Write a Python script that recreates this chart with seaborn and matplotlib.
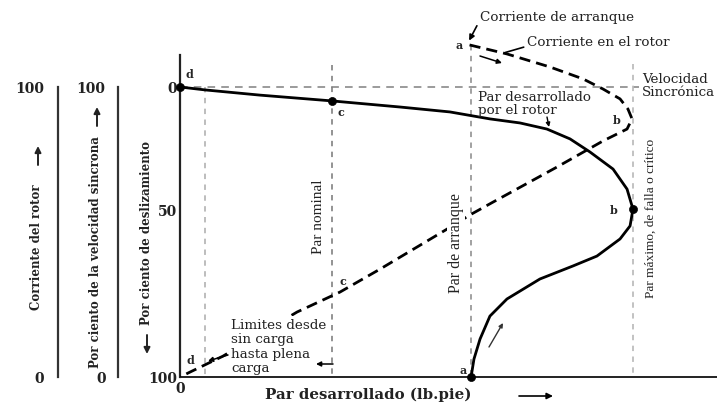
import matplotlib
matplotlib.use("Agg")
import matplotlib.pyplot as plt
from matplotlib.patches import FancyArrowPatch
import seaborn as sns
import pandas as pd

# ---------------- data (torque in arbitrary units, nominal = 100; slip in drawing units) -------------
torque_x = [0, 16.4, 52.6, 100, 144.7, 177.6, 203.9, 223.7, 241.4, 256.6, 269.7, 284.9,
            294.1, 298.0, 296.1, 289.5, 274.3, 258.6, 236.8, 215.1, 203.9, 197.4, 193.4, 191.5]
torque_slip = [0, 1.0, 2.8, 4.8, 6.9, 8.6, 11.0, 12.4, 14.5, 17.9, 22.4, 28.3,
               35.2, 42.1, 47.9, 52.4, 58.3, 61.7, 66.2, 73.1, 79.0, 86.9, 93.8, 100]
current_x = [190.5, 215.1, 243.4, 265.1, 278.3, 289.5, 294.7, 297.4, 294.1, 278.3, 248.0,
             205.9, 190.8, 175.7, 131.6, 105.3, 77.0, 28.3, 6.6, 0]
current_slip = [-14.5, -11.4, -6.9, -2.8, 0.7, 4.1, 7.6, 11.0, 14.5, 18.6, 27.6,
                39.7, 44.1, 49.0, 62.8, 70.7, 77.6, 92.8, 98.3, 100]
guide_x = [16.4, 100, 191.5, 297.7]          # sin carga, nominal, arranque, maximo
guide_top = [0, -7.6, -14.5, -8.0]
guide_colors = ["#b8b8b8", "#8a8a8a", "#9a9a9a", "#bdbdbd"]
point_x = [0, 100, 298.0, 191.5]             # d, c, b, a
point_slip = [0, 4.8, 42.1, 100]
slip_ticks = [0, 42.1, 100]
slip_labels = ["0", "50", "100"]
scale_labels = ["0", "100"]

W, H = 717, 406
sns.set_theme(style="white")
plt.rcParams["font.family"] = ["DejaVu Serif", "DejaVu Sans"]
SERIF = ["DejaVu Serif", "DejaVu Sans"]
TIMES = ["Liberation Serif", "DejaVu Serif"]

fig = plt.figure(figsize=(W / 100, H / 100), dpi=100)
fig.patch.set_facecolor("white")


def P(px, py):
    return (px / W, 1 - py / H)


def farrow(p0, p1, lw=1.1, ms=7, color="black"):
    fig.add_artist(FancyArrowPatch(P(*p0), P(*p1), transform=fig.transFigure, arrowstyle="-|>",
                                   color=color, lw=lw, mutation_scale=ms, shrinkA=0, shrinkB=0,
                                   zorder=6))


ax = fig.add_axes([180 / W, (H - 378) / H, (W - 180) / W, 378 / H])
ax.patch.set_visible(False)
ax.set_xlim(0, (W - 180) / 1.52)
ax.set_ylim(100, -88 / 2.9)

# guide lines
ax.vlines(guide_x, guide_top, 100, colors=guide_colors, linestyles=(0, (3, 3)), lw=1.3, zorder=1)
ax.hlines(0, 0, 302, colors="#808080", linestyles=(0, (5, 4)), lw=1.1, zorder=1)

df_t = pd.DataFrame({"x": torque_x, "y": torque_slip})
df_c = pd.DataFrame({"x": current_x, "y": current_slip})
sns.lineplot(data=df_t, x="x", y="y", sort=False, estimator=None, color="black", lw=2.0, ax=ax, zorder=3)
sns.lineplot(data=df_c, x="x", y="y", sort=False, estimator=None, color="black", lw=2.0, ax=ax, zorder=3,
             linestyle=(0, (4, 2.2)))
sns.scatterplot(x=point_x, y=point_slip, color="black", s=34, edgecolor="black", ax=ax, zorder=5, clip_on=False)

for s in ["top", "right"]:
    ax.spines[s].set_visible(False)
ax.spines["left"].set_bounds(100, -11)
ax.spines["left"].set_linewidth(1.6)
ax.spines["left"].set_color("#222222")
ax.spines["bottom"].set_linewidth(1.4)
ax.spines["bottom"].set_color("#222222")
ax.set_yticks(slip_ticks)
ax.set_yticklabels(slip_labels, fontfamily=SERIF, fontweight="bold", fontsize=10)
ax.set_xticks([0])
ax.set_xticklabels(["0"], fontfamily=SERIF, fontweight="bold", fontsize=10)
ax.tick_params(axis="y", direction="in", length=6, width=1.2, pad=2, colors="#222222")
ax.tick_params(axis="x", length=0, pad=3, colors="#222222")
ax.set_xlabel("")
ax.set_ylabel("")

# point letters
lab = dict(textcoords="offset pixels", fontfamily=SERIF, fontweight="bold", fontsize=8, ha="center", va="center")
ax.annotate("d", (0, 0), xytext=(9, 13), **lab)
ax.annotate("c", (100, 4.8), xytext=(9, -11), **lab)
ax.annotate("b", (298.0, 42.1), xytext=(-19, 0), **lab)
ax.annotate("a", (191.5, 100), xytext=(-8, 7), **lab)
ax.annotate("a", (190.5, -14.5), xytext=(-10, 0), **lab)
ax.annotate("b", (297.4, 11.0), xytext=(-15, -1), **lab)
ax.annotate("d", (0, 100), xytext=(10, 17), **lab)
ax.annotate("c", (105.3, 70.7), xytext=(3, 12), **lab)

# left scales
for lx, pad in [(58, 7), (118, 6)]:
    a2 = fig.add_axes([lx / W, (H - 378) / H, 0.0001, 290 / H])
    a2.patch.set_visible(False)
    a2.set_ylim(0, 100)
    a2.set_yticks([0, 100])
    a2.set_yticklabels(scale_labels, fontfamily=SERIF, fontweight="bold", fontsize=10)
    a2.set_xticks([])
    for s in ["top", "right", "bottom"]:
        a2.spines[s].set_visible(False)
    a2.spines["left"].set_linewidth(1.6)
    a2.spines["left"].set_color("#333333")
    a2.tick_params(axis="y", direction="inout", length=6, width=1.2, pad=pad, colors="#222222")

rot = dict(rotation=90, ha="center", va="center", fontfamily=SERIF, fontweight="bold", fontsize=8.5,
           color="#222222")
fig.text(*P(37, 247), "Corriente del rotor", **rot)
fig.text(*P(96, 252), "Por ciento de la velocidad sincrona", **rot)
fig.text(*P(147, 233), "Por ciento de deslizamiento", **rot)
farrow((38, 166), (38, 147), lw=1.4, ms=9, color="#222222")
farrow((97, 127), (97, 108), lw=1.4, ms=9, color="#222222")
farrow((147, 336), (147, 355), lw=1.4, ms=9, color="#222222")

# annotations
txt = dict(fontfamily=SERIF, fontsize=9.7, color="#222222")
ax.annotate("Corriente de arranque", xy=(190.2, -16), xycoords="data",
            xytext=P(480, 17), textcoords="figure fraction", ha="left", va="center",
            arrowprops=dict(arrowstyle="-|>", color="black", lw=1.2, mutation_scale=8,
                            shrinkA=0, shrinkB=0, relpos=(0, 0.2)), **txt)
ax.annotate("Corriente en el rotor", xy=(214, -11.9), xycoords="data",
            xytext=P(527, 42), textcoords="figure fraction", ha="left", va="center",
            arrowprops=dict(arrowstyle="-", color="black", lw=1.2, shrinkA=0, shrinkB=0,
                            relpos=(0, 0.1)), **txt)
farrow((480, 57), (502, 64), lw=1.1, ms=7)
fig.text(*P(642, 86), "Velocidad\nSincr\u00f3nica", ha="left", va="center", linespacing=1.0, **txt)
fig.text(*P(478, 104), "Par desarrollado\npor el rotor", ha="left", va="center", linespacing=0.95, **txt)
farrow((547, 118), (549, 128), lw=1.0, ms=6)
fig.text(*P(231, 347), "Limites desde\nsin carga\nhasta plena\ncarga", ha="left", va="center",
         linespacing=1.12, zorder=4,
         bbox=dict(boxstyle="square,pad=0.15", facecolor="white", edgecolor="none"), **txt)
farrow((228, 356), (208, 362), lw=1.1, ms=7)
farrow((333, 365), (316, 365), lw=1.1, ms=7)
farrow((489, 348), (503, 324), lw=1.0, ms=6, color="#333333")

vt = dict(rotation=90, ha="center", va="center", fontfamily=TIMES, color="#222222", zorder=4)
fig.text(*P(318, 217), "Par nominal", fontsize=11, **vt)
fig.text(*P(456, 243), "Par de arranque", fontsize=11.5,
         bbox=dict(boxstyle="square,pad=0.05", facecolor="white", edgecolor="none"), **vt)
fig.text(*P(651, 218), "Par m\u00e1ximo, de falla o cr\u00edtico", fontsize=9.6, **vt)

fig.text(*P(368, 395), "Par desarrollado (lb.pie)", ha="center", va="center",
         fontfamily=SERIF, fontweight="bold", fontsize=10.8, color="#222222")
farrow((519, 397), (553, 397), lw=1.2, ms=9)

fig.savefig("out.png", dpi=100, facecolor="white")
